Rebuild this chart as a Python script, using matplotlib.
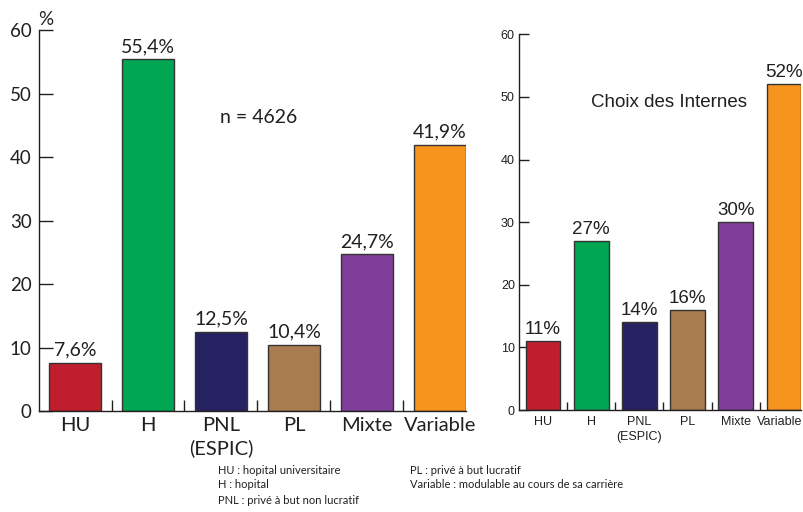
import matplotlib.pyplot as plt
from matplotlib.ticker import FixedLocator
from matplotlib.transforms import ScaledTranslation

# categories and values
categories = ['HU', 'H', 'PNL\n(ESPIC)', 'PL', 'Mixte', 'Variable']
all_values = [7.6, 55.4, 12.5, 10.4, 24.7, 41.9]
all_labels = ['7,6%', '55,4%', '12,5%', '10,4%', '24,7%', '41,9%']
internes_values = [11, 27, 14, 16, 30, 52]
internes_labels = ['11%', '27%', '14%', '16%', '30%', '52%']
colors = ['#BE1E2D', '#00A651', '#262262', '#A97C50', '#7F3F98', '#F7941D']
yticks = [0, 10, 20, 30, 40, 50, 60]

legend_left = ['HU : hopital universitaire', 'H : hopital', 'PNL : privé à but non lucratif']
legend_right = ['PL : privé à but lucratif', 'Variable : modulable au cours de sa carrière']

AXC = '#231F20'


def style_axes(ax, tick_fs, cat_fs, tick_len, ypad, xpad, font, lsp):
    x = range(len(categories))
    ax.set_xlim(-0.5, 5.36)
    ax.set_ylim(0, 60)
    for s in ['top', 'right']:
        ax.spines[s].set_visible(False)
    for s in ['left', 'bottom']:
        ax.spines[s].set_color(AXC)
        ax.spines[s].set_linewidth(1.0)
    ax.set_yticks(yticks)
    ax.set_yticklabels([str(v) for v in yticks], fontsize=tick_fs, family=font, color=AXC)
    ax.tick_params(axis='y', direction='in', length=tick_len, width=1, color=AXC, pad=ypad)
    ax.set_xticks(list(x))
    ax.set_xticklabels(categories, fontsize=cat_fs, family=font, color=AXC,
                       linespacing=lsp)
    ax.tick_params(axis='x', which='major', length=0, pad=xpad)
    ax.xaxis.set_minor_locator(FixedLocator([0.5, 1.5, 2.5, 3.5, 4.5]))
    ax.tick_params(axis='x', which='minor', direction='in', length=tick_len * 0.8,
                   width=1, color=AXC)


fig = plt.figure(figsize=(8.04, 5.12), dpi=100)
x = range(len(categories))

# left chart
ax1 = fig.add_axes([0.0479, 0.197, 0.532, 0.744])
ax1.bar(x, all_values, width=0.72, color=colors, edgecolor='#333333', linewidth=1.0, zorder=2)
for xi, v, lab in zip(x, all_values, all_labels):
    ax1.text(xi, v + 0.7, lab, ha='center', va='bottom', fontsize=14, family='Lato', color=AXC)
style_axes(ax1, 13.5, 14.5, 10, 5, 4, 'Lato', 1.35)
ax1.text(0.0, 1.005, '%', transform=ax1.transAxes, fontsize=13.5, family='Lato',
         color=AXC, ha='left', va='bottom')
ax1.text(1.99, 46.3, 'n = 4626', fontsize=14, family='Lato', color=AXC, ha='left', va='center')

# right chart
ax2 = fig.add_axes([0.6455, 0.199, 0.351, 0.734])
ax2.bar(x, internes_values, width=0.72, color=colors, edgecolor='#333333', linewidth=1.0, zorder=2)
for xi, v, lab in zip(x, internes_values, internes_labels):
    ax2.text(xi, v + 0.5, lab, ha='center', va='bottom', fontsize=13.5,
             family='Liberation Sans', color=AXC)
style_axes(ax2, 9, 9, 7, 3, 4, 'Liberation Sans', 1.35)
# nudge last label so it stays inside the picture
last = ax2.get_xticklabels()[-1]
last.set_transform(last.get_transform() + ScaledTranslation(-4 / 100, 0, fig.dpi_scale_trans))
ax2.text(2.61, 49.1, 'Choix des Internes', fontsize=13.5, family='Liberation Sans',
         color=AXC, ha='center', va='center')

# footnote legend
for i, t in enumerate(legend_left):
    fig.text(218 / 804, 1 - (470 + i * 15) / 512, t, fontsize=8, family='Lato',
             color=AXC, ha='left', va='center')
for i, t in enumerate(legend_right):
    fig.text(410 / 804, 1 - (470 + i * 15) / 512, t, fontsize=8, family='Lato',
             color=AXC, ha='left', va='center')

fig.savefig('out.png', dpi=100)
